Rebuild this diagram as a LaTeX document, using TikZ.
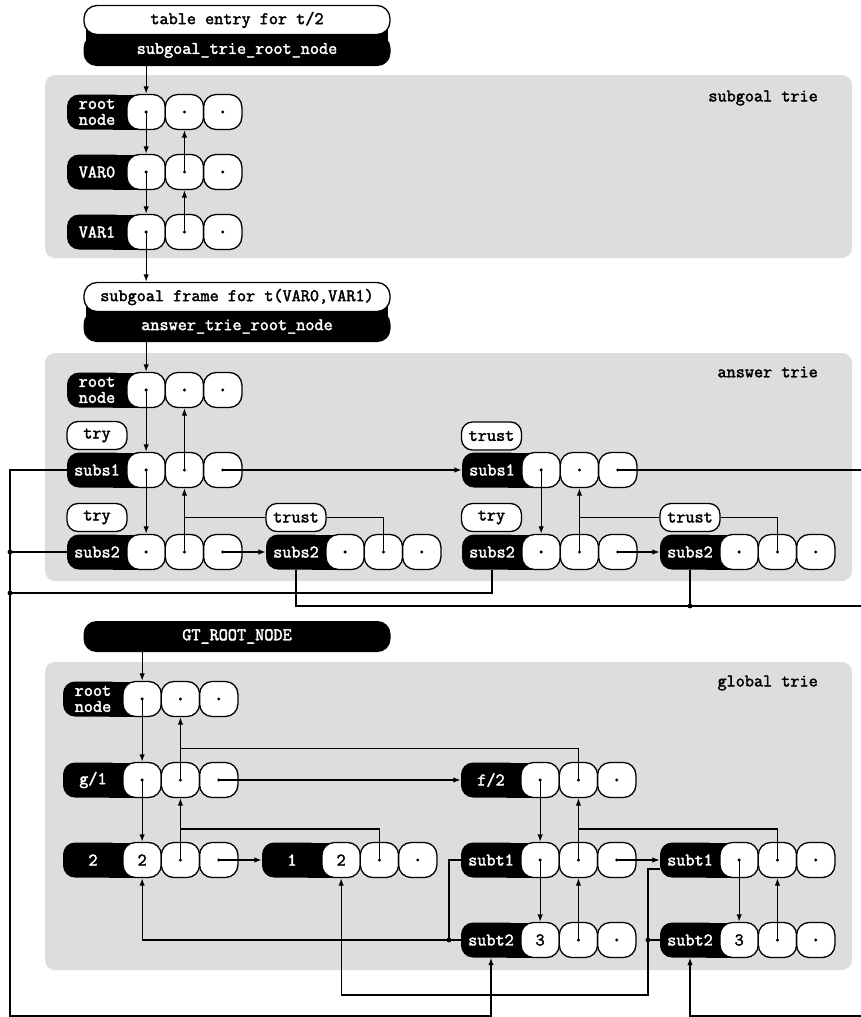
\documentclass[tikz,border=0pt]{standalone}
\usepackage{fontspec}
\newfontfamily\courb{Latin Modern Mono}[FakeBold=2.2]
\usetikzlibrary{arrows.meta,calc}
\definecolor{panelgray}{RGB}{221,221,221}
\newcommand\tfont{\courb\fontsize{17.7}{16}\selectfont}
\newcommand\celldot[2]{\if\relax\detokenize{#2}\relax\fill (#1.center) circle (1.7pt);\fi}
\newcommand\trierow[7]{%
 \fill ({#2+46},{#3-17.5}) rectangle ({#2+72},{#3+17.5});
 \node[lab] (#1) at ({#2+30},#3) {#4};
 \node[cell] (#1-1) at ({#2+79.15},#3) {#5};
 \node[cell] (#1-2) at ({#2+117.45},#3) {#6};
 \node[cell] (#1-3) at ({#2+155.75},#3) {#7};
 \celldot{#1-1}{#5}\celldot{#1-2}{#6}\celldot{#1-3}{#7}}
\tikzset{
 panel/.style={fill=panelgray, draw=none, rounded corners=10pt},
 title/.style={font=\tfont, anchor=east, inner sep=0pt},
 lab/.style={fill=black, text=white, draw=none, rounded corners=12pt, minimum width=60pt, minimum height=35pt, inner sep=0pt, font=\tfont, align=center},
 cell/.style={draw=black, fill=white, line width=1.3pt, rounded corners=12.5pt, minimum width=38.3pt, minimum height=35pt, inner sep=0pt, font=\tfont},
 tag/.style={draw=black, fill=white, line width=1.3pt, rounded corners=11pt, minimum width=60pt, minimum height=28pt, inner sep=0pt, font=\tfont},
 wbar/.style={draw=black, fill=white, line width=1.3pt, rounded corners=13pt, minimum width=306pt, minimum height=29pt, inner sep=0pt, font=\tfont},
 bbar/.style={fill=black, text=white, draw=none, rounded corners=13pt, minimum width=307pt, minimum height=31pt, inner sep=0pt, font=\tfont},
 wire/.style={line width=1.3pt},
 link/.style={line width=1.3pt, -{Latex[length=7.5pt,width=5.5pt]}},
 jdot/.style={fill=black}
}
\begin{document}
\begin{tikzpicture}[x=1pt,y=-1pt]
\useasboundingbox (0,0) rectangle (860,1017);
% panels
\fill[panel] (45,75) rectangle (852,258);
\fill[panel] (45,353) rectangle (852,581);
\fill[panel] (45,662) rectangle (852,970);
\node[title] (t1) at (818,98) {subgoal trie};
\node[title] (t2) at (818,372) {answer trie};
\node[title] (t3) at (818,683) {global trie};
% top bars
\node[bbar] (sr) at (237,50.5) {subgoal\_trie\_root\_node};
\fill ([xshift=3pt,yshift=7pt]sr.north west) rectangle ([xshift=-3pt,yshift=-6pt]sr.north east);
\node[wbar] (te) at (237,20) {table entry for t/2};
\node[bbar] (ar) at (237,326.5) {answer\_trie\_root\_node};
\fill ([xshift=3pt,yshift=7pt]ar.north west) rectangle ([xshift=-3pt,yshift=-6pt]ar.north east);
\node[wbar] (sf) at (237,297) {subgoal frame for t(VAR0,VAR1)};
\node[bbar] (gt) at (237,636.5) {GT\_ROOT\_NODE};
% subgoal trie
\trierow{sroot}{67}{112}{root\\node}{}{}{}
\trierow{svar0}{67}{172}{VAR0}{}{}{}
\trierow{svar1}{67}{232}{VAR1}{}{}{}
\draw[link] (sr.south -| sroot-1) -- (sroot-1.north);
\draw[link] (sroot-1.center) -- (svar0-1.north);
\draw[link] (svar0-1.center) -- (svar1-1.north);
\draw[link] (svar1-1.center) -- (svar1-1 |- sf.north);
\draw[link] (svar0-2.center) -- (sroot-2.south);
\draw[link] (svar1-2.center) -- (svar0-2.south);
% answer trie
\trierow{aroot}{67}{390}{root\\node}{}{}{}
\trierow{as1}{67}{470}{subs1}{}{}{}
\trierow{as2}{67}{552}{subs2}{}{}{}
\trierow{am2}{266}{552}{subs2}{}{}{}
\trierow{ar1}{462}{470}{subs1}{}{}{}
\trierow{ar2}{462}{552}{subs2}{}{}{}
\trierow{arr2}{660}{552}{subs2}{}{}{}
\node[tag] (tg1) at (97,435.5) {try};
\node[tag] (tg2) at (97,517.5) {try};
\node[tag] (tg3) at (296,517.5) {trust};
\node[tag] (tg4) at (491.5,436) {trust};
\node[tag] (tg5) at (491.5,517.5) {try};
\node[tag] (tg6) at (690,517.5) {trust};
\draw[link] (ar.south -| aroot-1) -- (aroot-1.north);
\draw[link] (aroot-1.center) -- (as1-1.north);
\draw[link] (as1-1.center) -- (as2-1.north);
\draw[link] (as1-2.center) -- (aroot-2.south);
\draw[link] (as2-2.center) -- (as1-2.south);
\draw[wire] (am2-2.center) |- (tg3.east);
\draw[wire] (tg3.west) -- (tg3.west -| as2-2);
\draw[link] (as2-3.center) -- (am2.west);
\draw[link] (as1-3.center) -- (ar1.west);
\draw[link] (ar1-1.center) -- (ar2-1.north);
\draw[link] (ar2-2.center) -- (ar1-2.south);
\draw[wire] (arr2-2.center) |- (tg6.east);
\draw[wire] (tg6.west) -- (tg6.west -| ar2-2);
\draw[link] (ar2-3.center) -- (arr2.west);
\coordinate (rx) at (862,0);
\draw[wire] (ar1-3.center) -- (ar1-3.center -| rx);
% global trie
\trierow{groot}{63}{699}{root\\node}{}{}{}
\trierow{gg1}{63}{780}{g/1}{}{}{}
\trierow{g2}{63}{860}{2}{2}{}{}
\trierow{g1}{262}{860}{1}{2}{}{}
\trierow{gf2}{461}{780}{f/2}{}{}{}
\trierow{gs1}{461}{860}{subt1}{}{}{}
\trierow{gs2}{461}{940}{subt2}{3}{}{}
\trierow{gs1r}{660}{860}{subt1}{}{}{}
\trierow{gs2r}{660}{940}{subt2}{3}{}{}
\coordinate (gy1) at (0,748.5);
\coordinate (gy2) at (0,829);
\draw[link] (gt.south -| groot-1) -- (groot-1.north);
\draw[link] (groot-1.center) -- (gg1-1.north);
\draw[link] (gg1-2.center) -- (groot-2.south);
\draw[wire] (gf2-2.center) -- (gf2-2.center |- gy1) -- (gg1-2 |- gy1);
\draw[link] (gg1-3.center) -- (gf2.west);
\draw[link] (gg1-1.center) -- (g2-1.north);
\draw[link] (g2-2.center) -- (gg1-2.south);
\draw[wire] (g1-2.center) -- (g1-2.center |- gy2) -- (g2-2 |- gy2);
\draw[link] (g2-3.center) -- (g1.west);
\draw[link] (gf2-1.center) -- (gs1-1.north);
\draw[link] (gs1-2.center) -- (gf2-2.south);
\draw[wire] (gs1r-2.center) -- (gs1r-2.center |- gy2) -- (gs1-2 |- gy2);
\draw[link] (gs1-3.center) -- (gs1r.west);
\draw[link] (gs1-1.center) -- (gs2-1.north);
\draw[link] (gs2-2.center) -- (gs1-2.south);
\draw[link] (gs1r-1.center) -- (gs2r-1.north);
\draw[link] (gs2r-2.center) -- (gs1r-2.south);
\coordinate (jx) at (449,0);
\draw[wire] (gs1.west) -- (gs1.west -| jx) -- (jx |- gs2.west);
\draw[link] (gs2.west) -- (gs2.west -| g2-1) -- (g2-1.south);
\fill[jdot] (gs2.west -| jx) circle (2.4pt);
\coordinate (k) at (648,995);
\draw[link] ([yshift=-9pt]gs1r.west) -| (k) -| (g1-1.south);
\draw[wire] (gs2r.west) -- (gs2r.west -| k);
\fill[jdot] (gs2r.west -| k) circle (2.4pt);
% outer connections
\coordinate (lft) at (10,1016);
\coordinate (rb) at (862,1016);
\coordinate (ya) at (0,593);
\coordinate (yb) at (862,606);
\draw[link] (as1.west) -- (as1.west -| lft) -- (lft) -| (gs2.south);
\draw[wire] (as2.west) -- (as2.west -| lft);
\fill[jdot] (as2.west -| lft) circle (2.4pt);
\draw[wire] (ar2.south) -- (ar2.south |- ya) -- (lft |- ya);
\fill[jdot] (lft |- ya) circle (2.4pt);
\draw[wire] (am2.south) |- (yb);
\draw[wire] (arr2.south) -- (arr2.south |- yb);
\fill[jdot] (arr2.south |- yb) circle (2.4pt);
\draw[link] (rb) -| (gs2r.south);
\end{tikzpicture}
\end{document}
